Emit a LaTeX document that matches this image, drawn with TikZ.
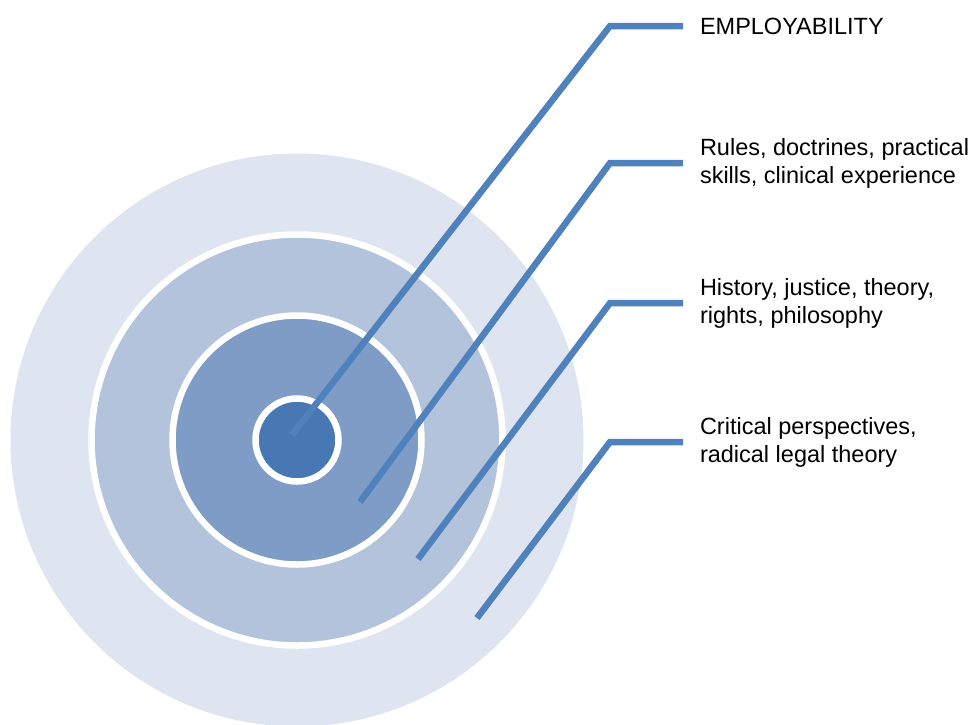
\documentclass[tikz,border=0pt]{standalone}
\usepackage{fontspec}
\setmainfont{Liberation Sans}
\usepackage{xcolor}
\usepackage{tikz}
\usetikzlibrary{positioning}

\definecolor{ringA}{HTML}{DFE5F0}
\definecolor{ringB}{HTML}{B3C3DC}
\definecolor{ringC}{HTML}{7E9CC6}
\definecolor{ringD}{HTML}{4878B4}
\definecolor{leaderblue}{HTML}{4F81BD}

\begin{document}
\begin{tikzpicture}[x=1pt, y=-1pt,
    ring/.style={circle, inner sep=0pt, draw=white, line width=6.5pt},
    leader/.style={draw=leaderblue, line width=6.5pt},
    textblock/.style={anchor=west, align=left, inner xsep=17pt, inner ysep=0pt, outer sep=0pt,
                      font=\fontsize{23.5}{28}\selectfont}]
    \useasboundingbox (0,0) rectangle (972,724);
    \clip (0,0) rectangle (972,724);

    % target rings
    \node (field) [circle, fill=ringA, inner sep=0pt, minimum size=573pt] at (297,440) {};
    \node (middle) [ring, fill=ringB, minimum size=411pt] at (field.center) {};
    \node (core) [ring, fill=ringC, minimum size=249pt] at (field.center) {};
    \node (hub) [ring, fill=ringD, minimum size=83pt] at (field.center) {};

    % labels
    \node (employ) [textblock] at (683,26) {EMPLOYABILITY};
    \node (rules) [textblock] at (683,163) {Rules, doctrines, practical\\skills, clinical experience};
    \node (history) [textblock] at (683,303) {History, justice, theory,\\rights, philosophy};
    \node (critical) [textblock] at (683,442) {Critical perspectives,\\radical legal theory};

    % leader lines
    \coordinate (tipA) at (292,435);
    \coordinate (bendA) at (610,26);
    \coordinate (tipB) at (360,502);
    \coordinate (bendB) at (610,163);
    \coordinate (tipC) at (418,559);
    \coordinate (bendC) at (610,303);
    \coordinate (tipD) at (477,618);
    \coordinate (bendD) at (610,442);

    \draw [leader] (tipA) -- (bendA) -- (employ.west);
    \draw [leader] (tipB) -- (bendB) -- (rules.west);
    \draw [leader] (tipC) -- (bendC) -- (history.west);
    \draw [leader] (tipD) -- (bendD) -- (critical.west);
\end{tikzpicture}
\end{document}
